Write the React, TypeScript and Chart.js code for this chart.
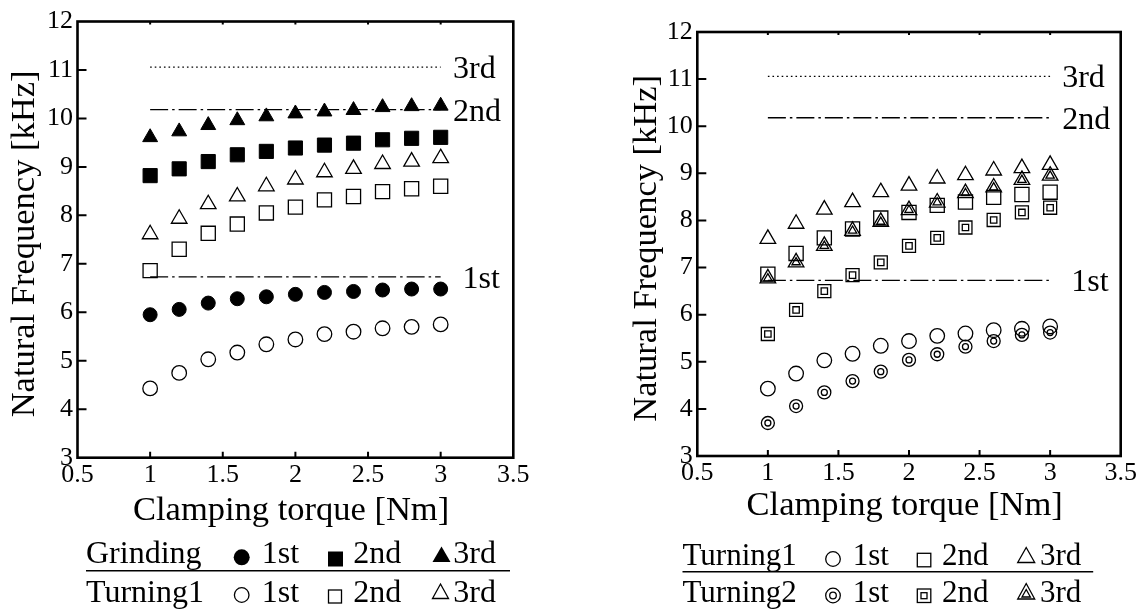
import React, { useEffect, useRef } from 'react';
import { Chart, registerables } from 'chart.js';

Chart.register(...registerables);

// ---------------- data ----------------
const torque = [1, 1.2, 1.4, 1.6, 1.8, 2.0, 2.2, 2.4, 2.6, 2.8, 3.0];

const grinding1st = [5.95, 6.06, 6.19, 6.28, 6.32, 6.37, 6.41, 6.43, 6.46, 6.48, 6.48];
const grinding2nd = [8.82, 8.96, 9.11, 9.25, 9.32, 9.39, 9.45, 9.49, 9.56, 9.59, 9.61];
const grinding3rd = [9.61, 9.73, 9.86, 9.96, 10.04, 10.1, 10.14, 10.17, 10.23, 10.25, 10.26];

const turning1_1st = [4.43, 4.75, 5.03, 5.17, 5.34, 5.44, 5.55, 5.6, 5.67, 5.7, 5.75];
const turning1_2nd = [6.86, 7.3, 7.63, 7.82, 8.05, 8.17, 8.32, 8.39, 8.49, 8.55, 8.6];
const turning1_3rd = [7.61, 7.93, 8.23, 8.39, 8.6, 8.74, 8.89, 8.96, 9.06, 9.11, 9.18];

const turning2_1st = [3.7, 4.06, 4.35, 4.59, 4.79, 5.04, 5.16, 5.32, 5.44, 5.57, 5.62];
const turning2_2nd = [5.59, 6.1, 6.5, 6.84, 7.11, 7.46, 7.63, 7.85, 8.01, 8.17, 8.27];
const turning2_3rd = [6.77, 7.11, 7.46, 7.78, 7.97, 8.22, 8.38, 8.58, 8.7, 8.86, 8.95];

// reference (natural frequency) lines: 1st, 2nd, 3rd
const refValues = [6.73, 10.18, 11.06];
const refLabels = ['1st', '2nd', '3rd'];
const refRange = [1, 3];

const xTickLabels = ['0.5', '1', '1.5', '2', '2.5', '3', '3.5'];
const yTickLabels = ['3', '4', '5', '6', '7', '8', '9', '10', '11', '12'];

const xTitle = 'Clamping torque [Nm] ';
const yTitle = 'Natural Frequency [kHz] ';

// ---------------- styling ----------------
const FONT = '"Liberation Serif", "Times New Roman", serif';
const refLabelX = [3.15, 3.085, 3.085];
const refDash = [
  [18, 4, 2.5, 4],
  [18, 4, 2.5, 4],
  [1.6, 3],
];

function pts(vals: number[]) {
  return torque.map((x, i) => ({ x, y: vals[i] }));
}

function markers(vals: number[], style: string, radius: number, filled: boolean, bw = 1.3) {
  return {
    type: 'scatter',
    data: pts(vals),
    pointStyle: style,
    pointRadius: radius,
    pointHoverRadius: radius,
    pointBackgroundColor: filled ? '#000' : 'rgba(0,0,0,0)',
    pointBorderColor: '#000',
    pointBorderWidth: bw,
    showLine: false,
  };
}

function refLines() {
  return refValues.map((v, i) => ({
    type: 'scatter',
    data: [
      { x: refRange[0], y: v },
      { x: refRange[1], y: v },
    ],
    showLine: true,
    pointRadius: 0,
    borderColor: '#000',
    borderWidth: 1.3,
    borderDash: refDash[i],
    fill: false,
  }));
}

type Geom = {
  left: number;
  w: number;
  h: number;
  areaLeft: number;
  areaTop: number;
  areaRight: number;
  areaBottom: number;
  yTitlePad: number;
  xTitlePad: number;
};

function makeFramePlugin() {
  return {
    id: 'frame',
    afterDraw(chart: any) {
      const { ctx, chartArea: a, scales } = chart;
      const xs = scales.x;
      const ys = scales.y;
      ctx.save();
      ctx.strokeStyle = '#000';
      ctx.lineWidth = 2.6;
      ctx.strokeRect(a.left, a.top, a.right - a.left, a.bottom - a.top);
      ctx.lineWidth = 2;
      ctx.beginPath();
      xs.ticks.forEach((t: any) => {
        if (t.value <= xs.min + 1e-9 || t.value >= xs.max - 1e-9) return;
        const px = xs.getPixelForValue(t.value);
        ctx.moveTo(px, a.bottom);
        ctx.lineTo(px, a.bottom - 6);
        ctx.moveTo(px, a.top);
        ctx.lineTo(px, a.top + 3);
      });
      ys.ticks.forEach((t: any) => {
        if (t.value <= ys.min + 1e-9 || t.value >= ys.max - 1e-9) return;
        const py = ys.getPixelForValue(t.value);
        ctx.moveTo(a.left, py);
        ctx.lineTo(a.left + 9, py);
      });
      ctx.stroke();
      ctx.font = `32px ${FONT}`;
      ctx.fillStyle = '#000';
      ctx.textBaseline = 'middle';
      ctx.textAlign = 'left';
      refValues.forEach((v, i) => {
        ctx.fillText(refLabels[i], xs.getPixelForValue(refLabelX[i]), ys.getPixelForValue(v) + 2.5);
      });
      ctx.restore();
    },
  };
}

function FreqChart({ datasets, g }: { datasets: any[]; g: Geom }) {
  const ref = useRef<HTMLCanvasElement>(null);
  useEffect(() => {
    const canvas = ref.current!;
    const chart = new Chart(canvas, {
      type: 'scatter',
      data: { datasets: [...datasets, ...refLines()] as any },
      options: {
        animation: false,
        responsive: false,
        maintainAspectRatio: false,
        devicePixelRatio: 1,
        events: [],
        layout: {
          padding: { left: 0, top: g.areaTop, right: g.w - g.areaRight, bottom: 0 },
        },
        plugins: { legend: { display: false }, tooltip: { enabled: false } },
        scales: {
          x: {
            type: 'linear',
            min: 0.5,
            max: 3.5,
            grid: { display: false, drawTicks: false },
            border: { display: false },
            ticks: {
              stepSize: 0.5,
              autoSkip: false,
              maxRotation: 0,
              padding: 1.5,
              color: '#000',
              font: { family: FONT, size: 26 },
              callback: (v: any, i: number) => xTickLabels[i] ?? String(v),
            },
            title: {
              display: true,
              text: xTitle,
              color: '#000',
              font: { family: FONT, size: 34.5 },
              padding: { top: 0, bottom: g.xTitlePad },
            },
            afterFit: (s: any) => {
              s.height = g.h - g.areaBottom;
            },
          },
          y: {
            type: 'linear',
            min: 3,
            max: 12,
            grid: { display: false, drawTicks: false },
            border: { display: false },
            ticks: {
              stepSize: 1,
              autoSkip: false,
              padding: 4.5,
              color: '#000',
              font: { family: FONT, size: 26 },
              callback: (v: any, i: number) => yTickLabels[i] ?? String(v),
            },
            title: {
              display: true,
              text: yTitle,
              color: '#000',
              font: { family: FONT, size: 34.5 },
              padding: { top: g.yTitlePad, bottom: 0 },
            },
            afterFit: (s: any) => {
              s.width = g.areaLeft;
            },
          },
        },
      } as any,
      plugins: [makeFramePlugin()],
    });
    return () => chart.destroy();
  }, []);
  return (
    <canvas
      ref={ref}
      width={g.w}
      height={g.h}
      style={{ position: 'absolute', left: g.left, top: 0, width: g.w, height: g.h }}
    />
  );
}

const leftGeom: Geom = {
  left: 0,
  w: 580,
  h: 545,
  areaLeft: 77.5,
  areaTop: 21.5,
  areaRight: 513.3,
  areaBottom: 457.7,
  yTitlePad: 4.3,
  xTitlePad: 13,
};

const rightGeom: Geom = {
  left: 580,
  w: 560,
  h: 545,
  areaLeft: 117.3,
  areaTop: 32,
  areaRight: 540.7,
  areaBottom: 456,
  yTitlePad: 46.6,
  xTitlePad: 18.7,
};

const leftDatasets = [
  markers(grinding1st, 'circle', 7, true, 1),
  markers(grinding2nd, 'rect', 10, true, 1),
  markers(grinding3rd, 'triangle', 8.6, true, 1),
  markers(turning1_1st, 'circle', 7.3, false),
  markers(turning1_2nd, 'rect', 10, false),
  markers(turning1_3rd, 'triangle', 9, false),
];

const rightDatasets = [
  markers(turning1_1st, 'circle', 7.3, false),
  markers(turning1_2nd, 'rect', 10, false),
  markers(turning1_3rd, 'triangle', 9, false),
  markers(turning2_1st, 'circle', 6.5, false),
  markers(turning2_1st, 'circle', 3, false),
  markers(turning2_2nd, 'rect', 9.2, false),
  markers(turning2_2nd, 'rect', 4.5, false),
  markers(turning2_3rd, 'triangle', 9, false),
  markers(turning2_3rd, 'triangle', 4.8, false),
];

function Legend() {
  const t = { fontFamily: FONT, fill: '#000' } as any;
  return (
    <svg
      width={1140}
      height={609}
      style={{ position: 'absolute', left: 0, top: 0, pointerEvents: 'none' }}
    >
      {/* left legend */}
      <g style={{ fontSize: 32 }}>
        <text x={86} y={563.3} {...t}>Grinding</text>
        <circle cx={241.7} cy={557.3} r={8} fill="#000" />
        <text x={261.7} y={563.3} {...t}>1st</text>
        <rect x={328} y={551.5} width={15} height={15} fill="#000" />
        <text x={353.3} y={563.3} {...t}>2nd</text>
        <polygon points="441.5,546.5 450.5,562 432.5,562" fill="#000" />
        <text x={453.3} y={563.3} {...t}>3rd</text>
        <line x1={86} x2={510} y1={570.7} y2={570.7} stroke="#000" strokeWidth={1.5} />
        <text x={86} y={601.7} {...t}>Turning1</text>
        <circle cx={241.7} cy={595} r={7.3} fill="none" stroke="#000" strokeWidth={1.3} />
        <text x={261.7} y={601.7} {...t}>1st</text>
        <rect x={328.5} y={590} width={13} height={13} fill="none" stroke="#000" strokeWidth={1.3} />
        <text x={353.3} y={601.7} {...t}>2nd</text>
        <polygon points="440.5,584 448.5,598.5 432.5,598.5" fill="none" stroke="#000" strokeWidth={1.3} />
        <text x={453.3} y={601.7} {...t}>3rd</text>
      </g>
      {/* right legend */}
      <g style={{ fontSize: 31 }}>
        <text x={682.5} y={565} {...t}>Turning1</text>
        <circle cx={833} cy={559} r={7.3} fill="none" stroke="#000" strokeWidth={1.3} />
        <text x={852.7} y={565} {...t}>1st</text>
        <rect x={917.3} y={553.3} width={13.5} height={13.5} fill="none" stroke="#000" strokeWidth={1.3} />
        <text x={942} y={565} {...t}>2nd</text>
        <polygon points="1026.2,547.5 1034.7,562.5 1017.7,562.5" fill="none" stroke="#000" strokeWidth={1.3} />
        <text x={1040} y={565} {...t}>3rd</text>
        <line x1={682.5} x2={1093.2} y1={571.7} y2={571.7} stroke="#000" strokeWidth={1.5} />
        <text x={682.5} y={601.7} {...t}>Turning2</text>
        <circle cx={833} cy={595.5} r={7.3} fill="none" stroke="#000" strokeWidth={1.3} />
        <circle cx={833} cy={595.5} r={3.3} fill="none" stroke="#000" strokeWidth={1.3} />
        <text x={852.7} y={601.7} {...t}>1st</text>
        <rect x={917.3} y={589} width={13.5} height={13.5} fill="none" stroke="#000" strokeWidth={1.3} />
        <rect x={921} y={592.7} width={6} height={6} fill="none" stroke="#000" strokeWidth={1.3} />
        <text x={942} y={601.7} {...t}>2nd</text>
        <polygon points="1026.2,583.5 1034.7,599 1017.7,599" fill="none" stroke="#000" strokeWidth={1.3} />
        <polygon points="1026.2,589.5 1030.4,597 1022,597" fill="none" stroke="#000" strokeWidth={1.3} />
        <text x={1040} y={601.7} {...t}>3rd</text>
      </g>
    </svg>
  );
}

export default function App() {
  return (
    <div
      style={{
        position: 'absolute',
        left: 0,
        top: 0,
        width: 1140,
        height: 609,
        background: '#fff',
        overflow: 'hidden',
      }}
    >
      <FreqChart datasets={leftDatasets} g={leftGeom} />
      <FreqChart datasets={rightDatasets} g={rightGeom} />
      <Legend />
    </div>
  );
}
